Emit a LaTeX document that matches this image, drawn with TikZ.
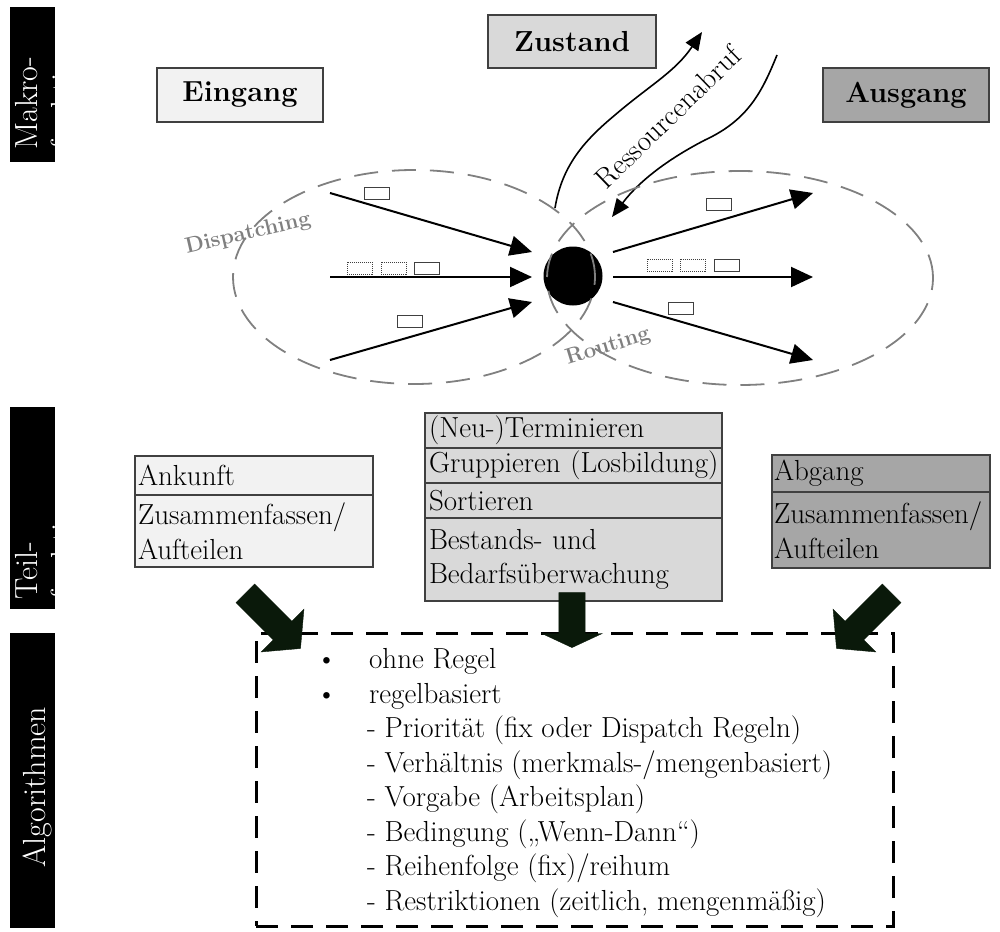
\documentclass[tikz,border=0pt]{standalone}
\usetikzlibrary{shapes,shapes.arrows,arrows.meta,positioning,calc}
\definecolor{inlight}{gray}{0.95}
\definecolor{statgray}{gray}{0.85}
\definecolor{outgray}{gray}{0.65}
\definecolor{framegray}{gray}{0.25}
\definecolor{zonegray}{gray}{0.5}
\definecolor{fatblack}{rgb}{0.04,0.1,0.04}

\begin{document}
\begin{tikzpicture}
  [x=1pt,y=-1pt,
   every node/.style={font=\fontsize{29}{34.5}\selectfont},
   barN/.style={fill=black,minimum width=45pt,inner sep=0pt},
   barT/.style={text=white,rotate=90,inner sep=0pt,align=left,
                font=\fontsize{32}{36}\selectfont},
   macroN/.style={draw=framegray,line width=1.2pt,minimum width=166pt,
                  minimum height=54pt,font=\fontsize{29}{34}\selectfont\bfseries},
   rowN/.style={draw=framegray,line width=1.2pt,outer sep=0pt,inner ysep=0pt,
                align=left,anchor=north west},
   inN/.style={rowN,fill=inlight,text width=232pt,inner xsep=3pt},
   statN/.style={rowN,fill=statgray,text width=289pt,inner xsep=4pt},
   outN/.style={rowN,fill=outgray,text width=214pt,inner xsep=2pt},
   flow/.style={line width=2pt,-{Triangle[length=22pt,width=20pt]}},
   resflow/.style={line width=1.6pt,-{Triangle[length=18pt,width=15pt]}},
   zone/.style={zonegray,line width=1.8pt,dash pattern=on 24pt off 14pt},
   zoneT/.style={text=zonegray,inner sep=0pt,font=\fontsize{22}{24}\selectfont\bfseries},
   part/.style={draw=framegray,line width=0.9pt},
   fatN/.style={single arrow,fill=fatblack,draw=fatblack,inner sep=13pt,
                single arrow head extend=17pt},
   algN/.style={draw,line width=3pt,dash pattern=on 22pt off 13pt}]

  \useasboundingbox (0,0) rectangle (1000,931);

  % side bars
  \node[barN,minimum height=155pt] (makroBar) at (32.5,84.5) {};
  \node[barN,minimum height=202pt] (teilBar) at (32.5,508) {};
  \node[barN,minimum height=295pt] (algoBar) at (32.5,780.5) {};
  \node[barT,anchor=base west] (makroTxt) at (73,150) {Makro-\\funktionen};
  \node[barT,anchor=base west] (teilTxt) at (73,600) {Teil-\\funktionen};
  \node[barT,anchor=base] (algoTxt) at (45,787) {Algorithmen};

  % macro functions
  \path (240,95)   node[macroN,fill=inlight] (eingang) {Eingang}
        (572,41.5) node[macroN,fill=statgray,minimum width=168pt,minimum height=53pt] (zustand) {Zustand}
        (906,95)   node[macroN,fill=outgray] (ausgang) {Ausgang};

  \node[circle,fill=black,minimum size=59pt,inner sep=0pt] (hub) at (573,276) {};

  \path (330,193) coordinate (inA)  (532,252) coordinate (inAe)
        (330,277) coordinate (inB)  (532,277) coordinate (inBe)
        (330,360) coordinate (inC)  (532,302) coordinate (inCe)
        (613,252) coordinate (outA) (813,193) coordinate (outAe)
        (613,277) coordinate (outB) (813,277) coordinate (outBe)
        (613,302) coordinate (outC) (813,360) coordinate (outCe);

  \draw[flow] (inA) -- (inAe);
  \draw[flow] (inB) -- (inBe);
  \draw[flow] (inC) -- (inCe);
  \draw[flow] (outA) -- (outAe);
  \draw[flow] (outB) -- (outBe);
  \draw[flow] (outC) -- (outCe);

  % jobs waiting
  \foreach \x/\y in {364/187,414/262,397/315,706/198,714/259,668/302}
    \draw[part] (\x,\y) rectangle ++(25,12);
  \foreach \x/\y in {347/262,381/262,647/259,680/259}
    \draw[part,dash pattern=on 1pt off 1pt] (\x,\y) rectangle ++(25,12);

  % resources
  \coordinate (resA) at (555,208);
  \coordinate (resB) at (702,32);
  \coordinate (resC) at (777,55);
  \coordinate (resD) at (612,217);
  \draw[resflow] (resA) .. controls (562,165) and (585,140) .. (615,115)
                        .. controls (650,85) and (675,72) .. (resB);
  \draw[resflow] (resC) .. controls (762,92) and (748,120) .. (705,140)
                        .. controls (670,158) and (640,180) .. (resD);
  \node[rotate=44,inner sep=0pt] (resLabel) at (668,117) {Ressourcenabruf};

  \node[zoneT,rotate=13] (dispatch) at (248,234) {Dispatching};
  \node[zoneT,rotate=17] (routing) at (608,347) {Routing};
  \draw[zone] (414,277) ellipse [x radius=181pt,y radius=107pt];
  \draw[zone] (740,278) ellipse [x radius=193pt,y radius=107pt];

  % sub functions
  \node[inN,minimum height=39pt] (ankunft) at (135,456) {Ankunft};
  \node[inN,minimum height=72pt] (ankTeil) [below=0pt of ankunft] {Zusammenfassen/\\Aufteilen};

  \node[statN,minimum height=35pt] (termin) at (425,413) {(Neu-)Terminieren};
  \node[statN,minimum height=35pt] (gruppe) [below=0pt of termin] {\mbox{Gruppieren (Losbildung)}};
  \node[statN,minimum height=35pt] (sort) [below=0pt of gruppe] {Sortieren};
  \node[statN,minimum height=83pt] (bestand) [below=0pt of sort] {Bestands- und\\Bedarfsüberwachung};

  \node[outN,minimum height=37pt] (abgang) at (772,455) {Abgang};
  \node[outN,minimum height=76pt] (abgTeil) [below=0pt of abgang] {Zusammenfassen/\\Aufteilen};

  % algorithms
  \node[algN,minimum width=637pt,minimum height=293pt] (algo) at (574.5,779.5) {};
  \node[inner sep=0pt,align=left,anchor=base west] (regeln) at (316,910)
    {\makebox[53pt][l]{\textbullet}ohne Regel\\
     \makebox[53pt][l]{\textbullet}regelbasiert\\
     \hspace*{51pt}- Priorität (fix oder Dispatch Regeln)\\
     \hspace*{51pt}- Verhältnis (merkmals-/mengenbasiert)\\
     \hspace*{51pt}- Vorgabe (Arbeitsplan)\\
     \hspace*{51pt}- Bedingung („Wenn-Dann“)\\
     \hspace*{51pt}- Reihenfolge (fix)/reihum\\
     \hspace*{51pt}- Restriktionen (zeitlich, mengenmäßig)};

  \node[fatN,rotate=-45,minimum height=78pt,single arrow tip angle=100] (fatIn) at (269,617) {};
  \node[fatN,rotate=-90,minimum height=55pt,single arrow tip angle=130] (fatMid) at (572,617) {};
  \node[fatN,rotate=-135,minimum height=78pt,single arrow tip angle=100] (fatOut) at (868,617) {};
\end{tikzpicture}
\end{document}
